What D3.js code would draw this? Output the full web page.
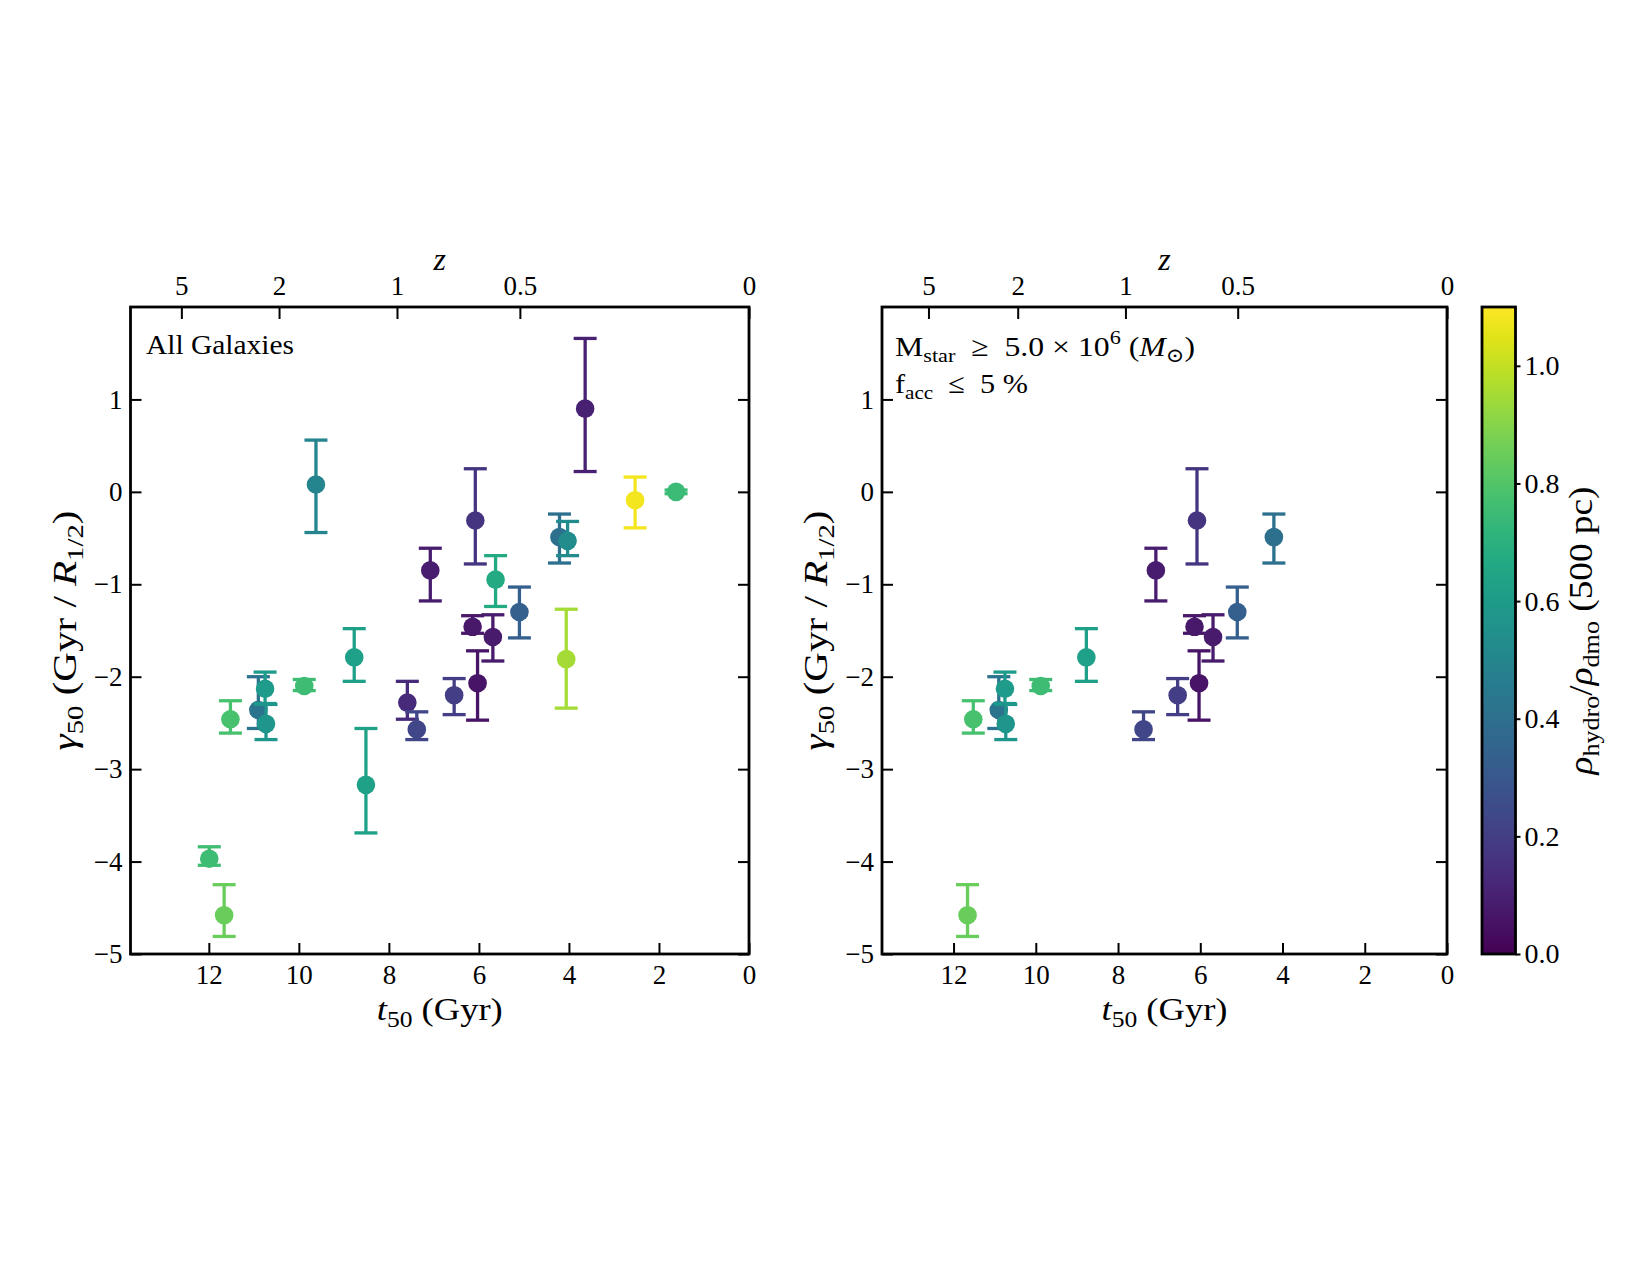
<!DOCTYPE html>
<html>
<head>
<meta charset="utf-8">
<script src="https://cdn.jsdelivr.net/npm/d3@7"></script>
<style>
  body { margin: 0; background: #fff; }
  svg { display: block; }
  text { font-family: "Liberation Serif", "Times New Roman", Times, "DejaVu Serif", serif; fill: #000; }
</style>
</head>
<body>
<svg id="chart" width="1650" height="1275"></svg>
<script>
// ---- data ----
// lookback time of half stellar mass (Gyr)
const t50 =      [11.99, 11.66, 11.52, 10.90, 10.75, 10.73, 9.88, 9.62, 8.77, 8.51, 7.59, 7.38, 7.08, 6.55, 6.14, 6.08, 6.03, 5.69, 5.63, 5.10, 4.21, 4.06, 4.03, 3.64, 2.53, 1.62];
// gamma_50 median and the ends of its error bar
const gamma50 =  [-3.97, -4.58, -2.46, -2.36, -2.13, -2.51, -2.10, 0.08, -1.79, -3.17, -2.28, -2.57, -0.85, -2.20, -1.46, -0.31, -2.07, -1.57, -0.95, -1.30, -0.49, -1.81, -0.53, 0.90, -0.09, 0.00];
const gammaLo =  [-4.04, -4.81, -2.61, -2.56, -2.29, -2.68, -2.15, -0.44, -2.05, -3.69, -2.46, -2.68, -1.18, -2.41, -1.53, -0.78, -2.47, -1.83, -1.24, -1.58, -0.77, -2.34, -0.69, 0.22, -0.39, -0.02];
const gammaHi =  [-3.84, -4.25, -2.26, -2.00, -1.95, -2.30, -2.03, 0.56, -1.48, -2.56, -2.05, -2.38, -0.61, -2.02, -1.34, 0.25, -1.72, -1.33, -0.69, -1.03, -0.24, -1.27, -0.32, 1.66, 0.16, 0.02];
// rho_hydro / rho_dmo at 500 pc (colour)
const rhoRatio = [0.76, 0.85, 0.78, 0.42, 0.60, 0.58, 0.76, 0.50, 0.62, 0.63, 0.13, 0.23, 0.09, 0.20, 0.07, 0.17, 0.06, 0.08, 0.67, 0.33, 0.40, 0.95, 0.53, 0.10, 1.08, 0.75];
// 1 = passes Mstar >= 5e6 and f_acc <= 5% (right panel)
const passesCut = [0, 1, 1, 1, 1, 1, 1, 0, 1, 0, 0, 1, 1, 1, 1, 1, 1, 1, 0, 1, 1, 0, 0, 0, 0, 0];

const tTicks = [12, 10, 8, 6, 4, 2, 0];
const yTicks = [-5, -4, -3, -2, -1, 0, 1];
const zLabels = ['5', '2', '1', '0.5', '0'];
const zTickT = [12.61, 10.44, 7.82, 5.09, 0];   // lookback time of each z tick
const cbTicks = [0, 0.2, 0.4, 0.6, 0.8, 1.0];

const tDomain = [13.74, 0];
const yDomain = [-5, 2];
const cDomain = [0, 1.1];

const rows = t50.map((t, i) => ({
  t: t, g: gamma50[i], lo: gammaLo[i], hi: gammaHi[i], c: rhoRatio[i], sel: passesCut[i]
}));

const svg = d3.select('#chart');
svg.append('rect').attr('width', 1650).attr('height', 1275).attr('fill', '#fff');

const yTop = 307, yBottom = 954;
const tickFont = 27;
const color = d3.scaleSequential(d3.interpolateViridis).domain(cDomain);
const y = d3.scaleLinear().domain(yDomain).range([yBottom, yTop]);

// text with sub/superscripts; len widens it a little (the original font runs wider)
function richText(sel, parts, size, len) {
  const txt = sel.append('text').attr('font-size', size);
  let shift = 0;
  parts.forEach(p => {
    const target = p.sub ? 0.22 * size : p.sup ? -0.42 * size : 0;
    txt.append('tspan')
      .attr('dy', target - shift)
      .attr('font-size', (p.sub || p.sup) ? size * 0.7 : size)
      .attr('font-style', p.it ? 'italic' : 'normal')
      .text(p.t);
    shift = target;
  });
  if (len) txt.attr('textLength', len).attr('lengthAdjust', 'spacingAndGlyphs');
  return txt;
}

function styleAxis(a, size) {
  a.select('.domain').remove();
  a.selectAll('.tick line').attr('stroke', '#000').attr('stroke-width', 2);
  a.selectAll('.tick text').attr('font-family', null).attr('font-size', size).attr('fill', '#000');
}

function drawPanel(x0, x1, data, note) {
  const x = d3.scaleLinear().domain(tDomain).range([x0, x1]);
  const g = svg.append('g');

  const pts = g.selectAll('g.pt').data(data).enter().append('g').attr('class', 'pt');
  pts.append('line')
    .attr('x1', d => x(d.t)).attr('x2', d => x(d.t))
    .attr('y1', d => y(d.lo)).attr('y2', d => y(d.hi))
    .attr('stroke', d => color(d.c)).attr('stroke-width', 3.3);
  ['lo', 'hi'].forEach(k => {
    pts.append('line')
      .attr('x1', d => x(d.t) - 11.5).attr('x2', d => x(d.t) + 11.5)
      .attr('y1', d => y(d[k])).attr('y2', d => y(d[k]))
      .attr('stroke', d => color(d.c)).attr('stroke-width', 3.3);
  });
  pts.append('circle')
    .attr('cx', d => x(d.t)).attr('cy', d => y(d.g)).attr('r', 9.3)
    .attr('fill', d => color(d.c));

  // axes, ticks pointing in
  const bx = g.append('g').attr('transform', `translate(0,${yBottom})`)
    .call(d3.axisBottom(x).tickValues(tTicks).tickSize(-11).tickPadding(11).tickFormat(d3.format('d')));
  styleAxis(bx, tickFont);
  const tx = g.append('g').attr('transform', `translate(0,${yTop})`)
    .call(d3.axisTop(x).tickValues(zTickT).tickSize(-12).tickPadding(12).tickFormat((d, i) => zLabels[i]));
  styleAxis(tx, tickFont);
  const ly = g.append('g').attr('transform', `translate(${x0},0)`)
    .call(d3.axisLeft(y).tickValues(yTicks).tickSize(-11).tickPadding(8).tickFormat(d => d < 0 ? '\u2212' + Math.abs(d) : d));
  styleAxis(ly, tickFont);
  const ry = g.append('g').attr('transform', `translate(${x1},0)`)
    .call(d3.axisRight(y).tickValues(yTicks).tickSize(-11).tickFormat(''));
  styleAxis(ry, tickFont);

  g.append('rect')
    .attr('x', x0).attr('y', yTop).attr('width', x1 - x0).attr('height', yBottom - yTop)
    .attr('fill', 'none').attr('stroke', '#000').attr('stroke-width', 2.8);

  // axis labels
  const cx = (x0 + x1) / 2;
  richText(g, [{ t: 't', it: true }, { t: '50', sub: true }, { t: ' (Gyr)' }], 32, 126)
    .attr('x', cx - 63).attr('y', 1020);
  richText(g, [{ t: 'z', it: true }], 32)
    .attr('x', cx).attr('y', 270).attr('text-anchor', 'middle');
  richText(g, [{ t: '\u03b3', it: true }, { t: '50', sub: true }, { t: ' (Gyr / ' },
               { t: 'R', it: true }, { t: '1/2', sub: true }, { t: ')' }], 33, 240)
    .attr('x', -120)
    .attr('transform', `translate(${x0 - 55},${(yTop + yBottom) / 2}) rotate(-90)`);

  note(g, x0);
}

drawPanel(130.5, 749, rows, (g, x0) => {
  g.append('text').attr('x', x0 + 15.5).attr('y', 354).attr('font-size', 28)
    .attr('textLength', 148).attr('lengthAdjust', 'spacingAndGlyphs').text('All Galaxies');
});

drawPanel(882, 1447, rows.filter(d => d.sel), (g, x0) => {
  richText(g, [{ t: 'M' }, { t: 'star', sub: true }, { t: '  \u2265  5.0 \u00d7 10' }, { t: '6', sup: true },
               { t: ' (' }, { t: 'M', it: true }, { t: '\u2299', sub: true }, { t: ')' }], 28, 300)
    .attr('x', x0 + 13).attr('y', 356).attr('xml:space', 'preserve');
  richText(g, [{ t: 'f' }, { t: 'acc', sub: true }, { t: '  \u2264  5 %' }], 28, 133)
    .attr('x', x0 + 13).attr('y', 393).attr('xml:space', 'preserve');
});

// ---- colour bar ----
const cbX = 1482, cbW = 33.5;
const cy = d3.scaleLinear().domain(cDomain).range([yBottom, yTop]);
const grad = svg.append('defs').append('linearGradient').attr('id', 'viridis')
  .attr('x1', 0).attr('y1', 1).attr('x2', 0).attr('y2', 0);
d3.range(0, 1.0001, 0.05).forEach(f => {
  grad.append('stop').attr('offset', f).attr('stop-color', d3.interpolateViridis(f));
});
svg.append('rect')
  .attr('x', cbX).attr('y', yTop).attr('width', cbW).attr('height', yBottom - yTop)
  .attr('fill', 'url(#viridis)').attr('stroke', '#000').attr('stroke-width', 2.8);
const cAxis = svg.append('g').attr('transform', `translate(${cbX + cbW},0)`)
  .call(d3.axisRight(cy).tickValues(cbTicks).tickSize(5).tickPadding(4).tickFormat(d3.format('.1f')));
styleAxis(cAxis, 28);
richText(svg, [{ t: '\u03c1', it: true }, { t: 'hydro', sub: true }, { t: '/' },
               { t: '\u03c1', it: true }, { t: 'dmo', sub: true }, { t: ' (500 pc)' }], 33, 288)
  .attr('x', -144)
  .attr('transform', `translate(${cbX + cbW + 76},${(yTop + yBottom) / 2}) rotate(-90)`);
</script>
</body>
</html>
